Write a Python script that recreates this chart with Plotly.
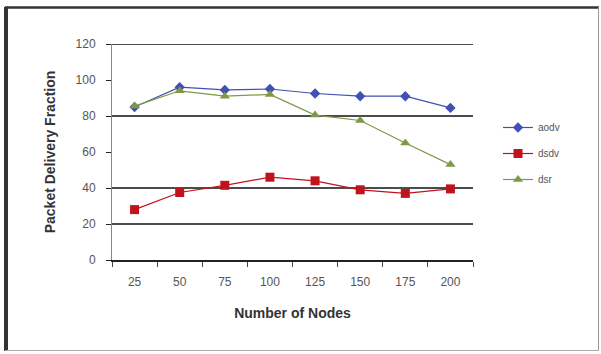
import plotly.graph_objects as go

# Packet delivery fraction vs. number of nodes for three routing protocols
nodes = ["25", "50", "75", "100", "125", "150", "175", "200"]
aodv = [85, 96, 94.5, 95, 92.5, 91, 91, 84.5]
dsdv = [28, 37.5, 41.5, 46, 44, 39, 37, 39.5]
dsr = [85.5, 94, 91, 92, 80.5, 77.5, 65, 53]

series = [
    ("aodv", aodv, "#4250B4", "diamond", 8),
    ("dsdv", dsdv, "#C0141C", "square", 9),
    ("dsr", dsr, "#7E9A46", "triangle-up", 9),
]

FONT = "Liberation Sans, Arial, sans-serif"

fig = go.Figure()
for name, vals, color, symbol, size in series:
    fig.add_trace(go.Scatter(
        x=nodes, y=vals, name=name, mode="lines+markers",
        legendgroup=name,
        line=dict(color=color, width=1.2),
        marker=dict(symbol=symbol, size=size, color=color,
                    line=dict(width=0)),
    ))

# horizontal reference lines drawn across the plot area
grid_levels = [20, 40, 80, 120]
shapes = [
    dict(type="line", xref="paper", yref="y", x0=0, x1=1, y0=v, y1=v,
         line=dict(color="#111111", width=1.6), layer="below")
    for v in grid_levels
]

# outer frame around the chart
W, L, R = 601, 112, 128
PW = W - L - R
H, T, B = 354, 44, 94
PH = H - T - B

def px(xp):
    return (xp - L) / PW

def py(yp):
    return (H - B - yp) / PH

shapes += [
    dict(type="line", xref="paper", yref="paper", x0=px(6), x1=px(6),
         y0=py(7), y1=py(351), line=dict(color="#333333", width=4)),
    dict(type="line", xref="paper", yref="paper", x0=px(5), x1=px(599),
         y0=py(7.5), y1=py(7.5), line=dict(color="#333333", width=2.5)),
    dict(type="line", xref="paper", yref="paper", x0=px(598.5), x1=px(598.5),
         y0=py(7), y1=py(351), line=dict(color="#999999", width=1)),
    dict(type="line", xref="paper", yref="paper", x0=px(5), x1=px(599),
         y0=py(350.5), y1=py(350.5), line=dict(color="#aaaaaa", width=1)),
]

fig.update_layout(
    width=W, height=H,
    margin=dict(l=L, r=R, t=T, b=B),
    paper_bgcolor="white", plot_bgcolor="white",
    font=dict(family=FONT, size=10, color="#444444"),
    showlegend=True,
    legend=dict(
        x=px(498), y=py(113), xanchor="left", yanchor="top",
        traceorder="grouped", tracegroupgap=7,
        font=dict(family=FONT, size=10, color="#555555"),
        bgcolor="rgba(0,0,0,0)",
    ),
    shapes=shapes,
    xaxis=dict(
        type="category", range=[-0.5, 7.5],
        showgrid=False, zeroline=False,
        showline=True, linecolor="#222222", linewidth=1.5,
        ticks="outside", tickson="boundaries", ticklen=5,
        tickcolor="#444444", ticklabelstandoff=10,
        tickfont=dict(size=12, color="#555555"),
        title=dict(text="<b>Number of Nodes</b>",
                   font=dict(size=14, color="#333333"), standoff=20),
    ),
    yaxis=dict(
        range=[0, 120], dtick=20,
        showgrid=False, zeroline=False,
        showline=True, linecolor="#888888", linewidth=1,
        ticks="outside", ticklen=5, tickcolor="#222222",
        ticklabelstandoff=8,
        tickfont=dict(size=12, color="#555555"),
        title=dict(text="<b>Packet Delivery Fraction</b>",
                   font=dict(size=14, color="#333333"), standoff=16),
    ),
)

fig.write_html("out.html")
